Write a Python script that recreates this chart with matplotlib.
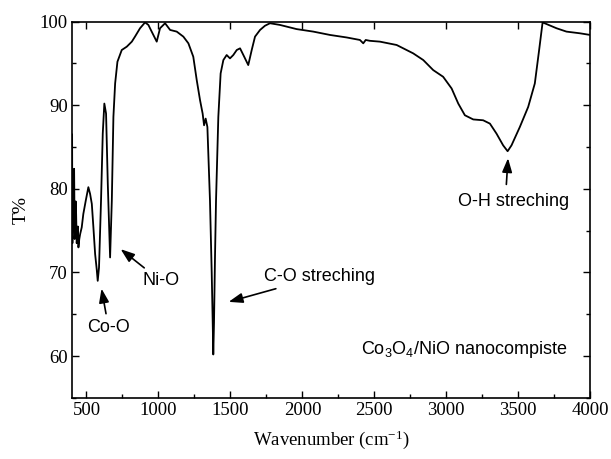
import matplotlib
matplotlib.use("Agg")
import matplotlib.pyplot as plt
from matplotlib.ticker import MultipleLocator

plt.rcParams["mathtext.default"] = "regular"

# FTIR spectrum (wavenumber in cm-1, transmittance %)
wavenumber = [400, 402, 406, 410, 414, 418, 421, 425, 428, 432, 435, 440, 444, 450,
              456, 467, 478, 495, 513, 525, 537, 548, 560, 571, 578, 587, 601, 613,
              624, 636, 648, 664, 676, 687, 699, 715, 745, 780, 815, 837, 872, 907,
              930, 953, 988, 1011, 1046, 1081, 1127, 1173, 1208, 1242, 1266, 1289,
              1307, 1317, 1328, 1340, 1358, 1370, 1377, 1381, 1386, 1393, 1400, 1416,
              1432, 1451, 1474, 1497, 1520, 1544, 1567, 1590, 1624, 1648, 1671, 1706,
              1740, 1775, 1844, 1960, 2076, 2192, 2308, 2400, 2423, 2440, 2469, 2539,
              2655, 2770, 2840, 2909, 2978, 3037, 3083, 3129, 3187, 3256, 3303, 3349,
              3395, 3426, 3453, 3511, 3569, 3615, 3645, 3669, 3697, 3766, 3835, 3928,
              4000]
transmittance = [86.5, 73.5, 78.0, 76.0, 82.4, 74.0, 75.0, 78.5, 77.0, 73.5, 74.2, 75.5,
                 73.0, 74.0, 74.6, 75.4, 77.0, 78.6, 80.2, 79.4, 78.2, 75.4, 72.2, 70.4,
                 69.0, 70.6, 78.6, 86.6, 90.2, 89.0, 80.6, 71.8, 78.6, 88.6, 92.6, 95.2,
                 96.6, 97.0, 97.6, 98.2, 99.2, 99.9, 99.6, 98.8, 97.6, 99.2, 99.8, 99.0,
                 98.8, 98.2, 97.4, 95.8, 93.0, 90.6, 89.0, 87.6, 88.4, 87.4, 78.6, 70.0,
                 64.0, 60.2, 64.0, 72.0, 78.6, 88.6, 93.8, 95.4, 96.0, 95.6, 96.0, 96.6,
                 96.8, 96.0, 94.8, 96.6, 98.2, 99.0, 99.5, 99.8, 99.6, 99.1, 98.8, 98.4,
                 98.1, 97.8, 97.4, 97.8, 97.7, 97.6, 97.2, 96.2, 95.4, 94.2, 93.4, 92.0,
                 90.2, 88.8, 88.3, 88.2, 87.8, 86.6, 85.2, 84.5, 85.2, 87.4, 89.8, 92.6,
                 96.6, 99.9, 99.7, 99.2, 98.8, 98.6, 98.4]

xticks = [500, 1000, 1500, 2000, 2500, 3000, 3500, 4000]
yticks = [60, 70, 80, 90, 100]

serif = "Liberation Serif"
sans = "Liberation Sans"

fig = plt.figure(figsize=(6.11, 4.59), dpi=100)
ax = fig.add_axes([0.118, 0.133, 0.848, 0.820])

ax.plot(wavenumber, transmittance, color="black", lw=1.3)

ax.set_xlim(400, 4000)
ax.set_ylim(55, 100)
ax.set_xticks(xticks)
ax.set_yticks(yticks)
ax.xaxis.set_minor_locator(MultipleLocator(250))
ax.yaxis.set_minor_locator(MultipleLocator(5))
ax.tick_params(which="both", direction="in", right=True, width=1.0,
               labelsize=13.5, pad=3)
ax.tick_params(which="major", length=5)
ax.tick_params(which="minor", length=3)
ax.tick_params(axis="x", which="major", top=True)
for lab in ax.get_xticklabels() + ax.get_yticklabels():
    lab.set_fontfamily(serif)
for s in ax.spines.values():
    s.set_linewidth(1.2)

ax.set_xlabel("Wavenumber (cm$^{-1}$)", fontfamily=serif, fontsize=13.5, labelpad=7)
ax.set_ylabel("T%", fontfamily=serif, fontsize=14, labelpad=7)

arrow = dict(arrowstyle="-|>,head_length=0.7,head_width=0.25", color="black",
             lw=1.2, mutation_scale=12)
fs = 13
ax.annotate("Co-O", xy=(601, 68.4), xytext=(653, 63.4), ha="center", va="center",
            fontfamily=sans, fontsize=fs, arrowprops=arrow)
ax.annotate("Ni-O", xy=(722, 73.0), xytext=(1015, 69.0), ha="center", va="center",
            fontfamily=sans, fontsize=fs, arrowprops=arrow)
ax.annotate("C-O streching", xy=(1469, 66.4), xytext=(1730, 69.5), ha="left",
            va="center", fontfamily=sans, fontsize=fs, arrowprops=arrow)
ax.annotate("", xy=(3430, 84.0), xytext=(3416, 80.2), arrowprops=arrow)
ax.text(3470, 78.5, "O-H streching", ha="center", va="center",
        fontfamily=sans, fontsize=fs)
ax.text(3845, 60.8, "Co$_3$O$_4$/NiO nanocompiste", ha="right", va="center",
        fontfamily=sans, fontsize=fs)

fig.savefig("out.png", dpi=100)
